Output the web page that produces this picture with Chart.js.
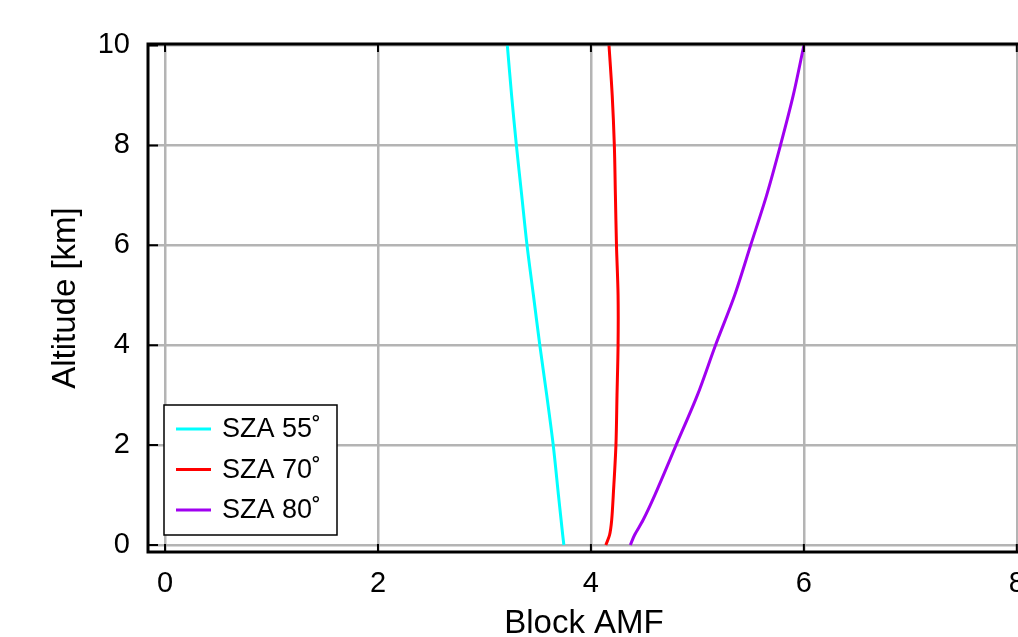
<!DOCTYPE html>
<html>
<head>
<meta charset="utf-8">
<script src="https://cdn.jsdelivr.net/npm/chart.js@4/dist/chart.umd.min.js"></script>
<style>
html, body { margin: 0; padding: 0; overflow: hidden; background: #fff; width: 1018px; height: 637px; }
#wrap { width: 1060px; height: 650px; }
</style>
</head>
<body>
<div id="wrap"><canvas id="chart" width="1060" height="650"></canvas></div>
<script>
// altitude grid (km) shared by all three curves
const altitude = [0, 0.2, 0.5, 1, 2, 3, 4, 5, 6, 7, 8, 9, 10];
const amfSza55 = [3.746, 3.735, 3.72, 3.695, 3.646, 3.585, 3.52, 3.46, 3.40, 3.35, 3.30, 3.255, 3.215];
const amfSza70 = [4.14, 4.175, 4.195, 4.21, 4.235, 4.245, 4.255, 4.255, 4.24, 4.23, 4.22, 4.20, 4.17];
const amfSza80 = [4.37, 4.41, 4.49, 4.60, 4.80, 5.00, 5.17, 5.35, 5.50, 5.65, 5.78, 5.90, 6.00];
const seriesLabels = ['SZA 55˚', 'SZA 70˚', 'SZA 80˚'];
const seriesColors = ['#00ffff', '#ff0000', '#a000f0'];
const xTicks = [0, 2, 4, 6, 8];
const yTicks = [0, 2, 4, 6, 8, 10];

const FONT = '"Liberation Sans", Arial, Helvetica, sans-serif';

function points(xs) {
    return xs.map((v, i) => ({ x: v, y: altitude[i] }));
}

// black frame plus short inward ticks, like the original plot
const framePlugin = {
    id: 'frame',
    afterDatasetsDraw(chart) {
        const { ctx, chartArea: a, scales } = chart;
        ctx.save();
        ctx.strokeStyle = '#000';
        ctx.lineWidth = 2;
        ctx.beginPath();
        yTicks.forEach(t => {
            const y = scales.y.getPixelForValue(t);
            ctx.moveTo(a.left, y); ctx.lineTo(a.left + 10, y);
        });
        xTicks.forEach(t => {
            const x = scales.x.getPixelForValue(t);
            ctx.moveTo(x, a.bottom); ctx.lineTo(x, a.bottom - 8);
            ctx.moveTo(x, a.top); ctx.lineTo(x, a.top + 8);
        });
        ctx.stroke();
        ctx.lineWidth = 3;
        ctx.strokeRect(a.left, a.top, a.right - a.left, a.bottom - a.top);
        ctx.restore();
    }
};

// legend box drawn in the lower-left corner of the plot
const boxLegend = {
    id: 'boxLegend',
    afterDraw(chart) {
        const { ctx } = chart;
        const left = 164, top = 405, w = 173, h = 130;
        ctx.save();
        ctx.fillStyle = '#fff';
        ctx.fillRect(left, top, w, h);
        ctx.strokeStyle = '#000';
        ctx.lineWidth = 1.5;
        ctx.strokeRect(left, top, w, h);
        chart.data.datasets.forEach((ds, i) => {
            const y = top + 24 + i * 40.5;
            ctx.strokeStyle = ds.borderColor;
            ctx.lineWidth = 3;
            ctx.beginPath();
            ctx.moveTo(176, y); ctx.lineTo(211, y);
            ctx.stroke();
            ctx.fillStyle = '#000';
            ctx.font = '27px ' + FONT;
            ctx.textBaseline = 'middle';
            ctx.fillText(ds.label, 222, y + 1);
        });
        ctx.restore();
    }
};

const ctx = document.getElementById('chart').getContext('2d');
new Chart(ctx, {
    type: 'scatter',
    data: {
        datasets: [amfSza55, amfSza70, amfSza80].map((vals, i) => ({
            label: seriesLabels[i],
            data: points(vals),
            showLine: true,
            borderColor: seriesColors[i],
            backgroundColor: seriesColors[i],
            borderWidth: 3,
            pointRadius: 0,
            tension: 0.3
        }))
    },
    options: {
        responsive: false,
        animation: false,
        layout: { padding: { top: 44, right: 40, bottom: 0, left: 0 } },
        plugins: {
            legend: { display: false },
            tooltip: { enabled: false }
        },
        scales: {
            x: {
                type: 'linear',
                min: -0.16,
                max: 8.03,
                afterBuildTicks: s => { s.ticks = xTicks.map(v => ({ value: v })); },
                afterFit: s => { s.height = 98; },
                grid: { color: '#b4b4b4', lineWidth: 2.5, drawTicks: false },
                border: { display: false },
                ticks: { color: '#000', padding: 15, font: { family: FONT, size: 29 } },
                title: {
                    display: true,
                    text: 'Block AMF',
                    color: '#000',
                    padding: { top: 0, bottom: 6 },
                    font: { family: FONT, size: 33 }
                }
            },
            y: {
                type: 'linear',
                min: -0.14,
                max: 10.03,
                afterBuildTicks: s => { s.ticks = yTicks.map(v => ({ value: v })); },
                afterFit: s => { s.width = 148; },
                grid: { color: '#b4b4b4', lineWidth: 2.5, drawTicks: false },
                border: { display: false },
                ticks: { color: '#000', padding: 18, font: { family: FONT, size: 29 } },
                title: {
                    display: true,
                    text: 'Altitude [km]',
                    color: '#000',
                    padding: { top: 46, bottom: 0 },
                    font: { family: FONT, size: 33 }
                }
            }
        }
    },
    plugins: [framePlugin, boxLegend]
});
</script>
</body>
</html>
